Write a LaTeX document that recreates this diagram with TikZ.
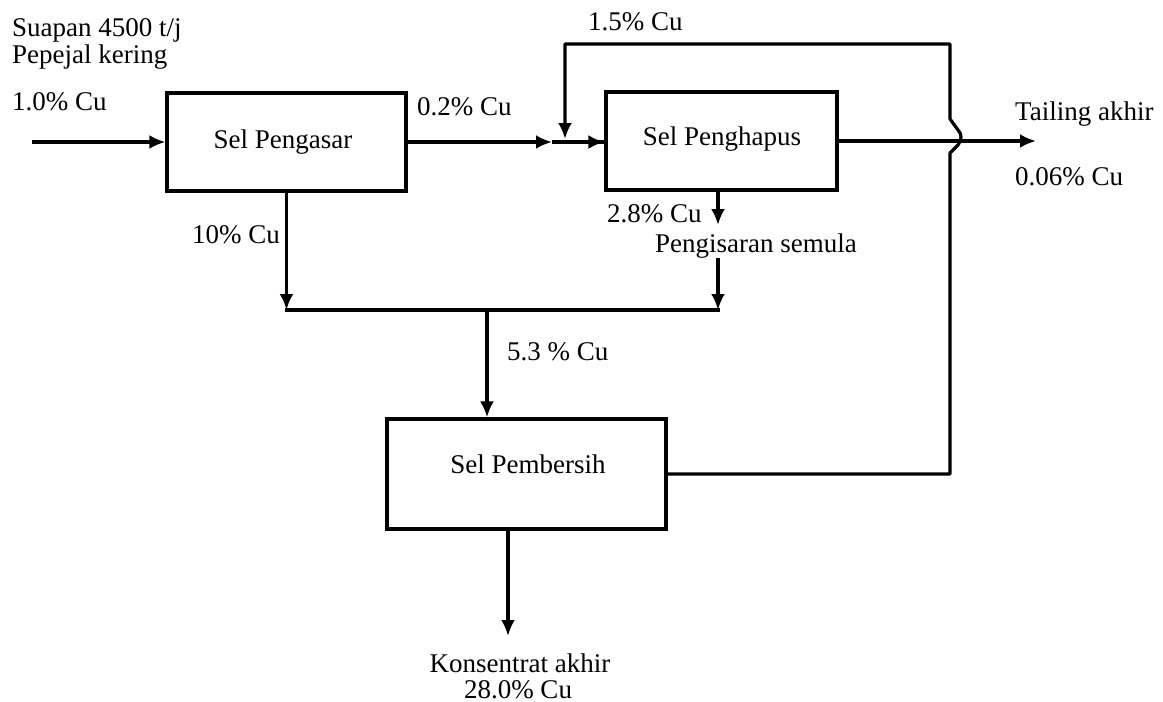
\documentclass[tikz,border=0pt]{standalone}
\usepackage{fontspec}
\setmainfont{Liberation Serif}
\usetikzlibrary{arrows.meta}
\newcommand{\dfs}{\fontsize{27}{30}\selectfont}
\tikzset{
  cell/.style={draw, line width=3.2pt, inner sep=0pt},
  txt/.style={anchor=base west, inner sep=0pt, font=\dfs},
  ctxt/.style={anchor=base, inner sep=0pt, font=\dfs},
  wire/.style={line width=3.2pt},
  flow/.style={line width=3.2pt, -{Latex[length=16pt,width=14pt]}}
}
\begin{document}
\begin{tikzpicture}[x=1pt,y=-1pt]
\useasboundingbox (0,0) rectangle (1163,702);
% boxes
\node[cell, minimum width=239pt, minimum height=98pt] (pgs) at (286.5,142) {};
\node[cell, minimum width=231pt, minimum height=98pt] (pgh) at (721.5,141) {};
\node[cell, minimum width=279pt, minimum height=110pt] (pbr) at (526.5,474) {};
% box texts
\node[ctxt] (tpgs) at (283,148) {Sel Pengasar};
\node[ctxt] (tpgh) at (722,145) {Sel Penghapus};
\node[ctxt] (tpbr) at (528,473) {Sel Pembersih};
% labels
\node[txt] (suap) at (12,36) {Suapan 4500 t/j};
\node[txt] (pepe) at (12,63) {Pepejal kering};
\node[txt] (feedcu) at (12,110) {1.0\% Cu};
\node[txt] (l02) at (417,115) {0.2\% Cu};
\node[txt] (l15) at (588,30) {1.5\% Cu};
\node[txt] (tail) at (1015,120) {Tailing akhir};
\node[txt] (l006) at (1015,185) {0.06\% Cu};
\node[txt] (l28) at (607,222) {2.8\% Cu};
\node[txt] (reg) at (655,252) {Pengisaran semula};
\node[txt] (l10) at (192,243) {10\% Cu};
\node[txt] (l53) at (507,360) {5.3 \% Cu};
\node[ctxt] (kon) at (520,672) {Konsentrat akhir};
\node[ctxt] (k28) at (518,698) {28.0\% Cu};
% coordinates
\coordinate (feed) at (32,142);
\coordinate (m1) at (552,142);
\coordinate (tailend) at (1036,141);
\coordinate (c1) at (286.5,310);
\coordinate (c2) at (718,310);
\coordinate (j) at (487,310);
\coordinate (g1) at (718,190);
\coordinate (g2) at (718,225);
\coordinate (g3) at (718,258);
\coordinate (kb) at (508,529);
\coordinate (ke) at (508,636);
\coordinate (rc) at (565,139);
% connectors
\draw[flow] (feed) -- (pgs.west |- feed);
\draw[flow] (pgs.east |- m1) -- (m1);
\draw[wire] (m1) -- (pgh.west |- m1);
\draw[flow] (m1) -- (pgh.west |- m1);
\draw[flow] (pgh.east) -- (tailend);
\draw[flow] (pgs.south) -- (c1);
\draw[wire, line cap=rect] (c1) -- (c2);
\draw[flow] (g1) -- (g2);
\draw[flow] (g3) -- (c2);
\draw[flow] (j) -- (j |- pbr.north);
\draw[flow] (kb) -- (ke);
\draw[flow, line join=round] (pbr.east) -- (950,474) -- (950,153)
  -- (958,145) .. controls (962,140) and (962,134) .. (958,130)
  -- (950,119) -- (950,44) -- (565,44) -- (rc);
\end{tikzpicture}
\end{document}
